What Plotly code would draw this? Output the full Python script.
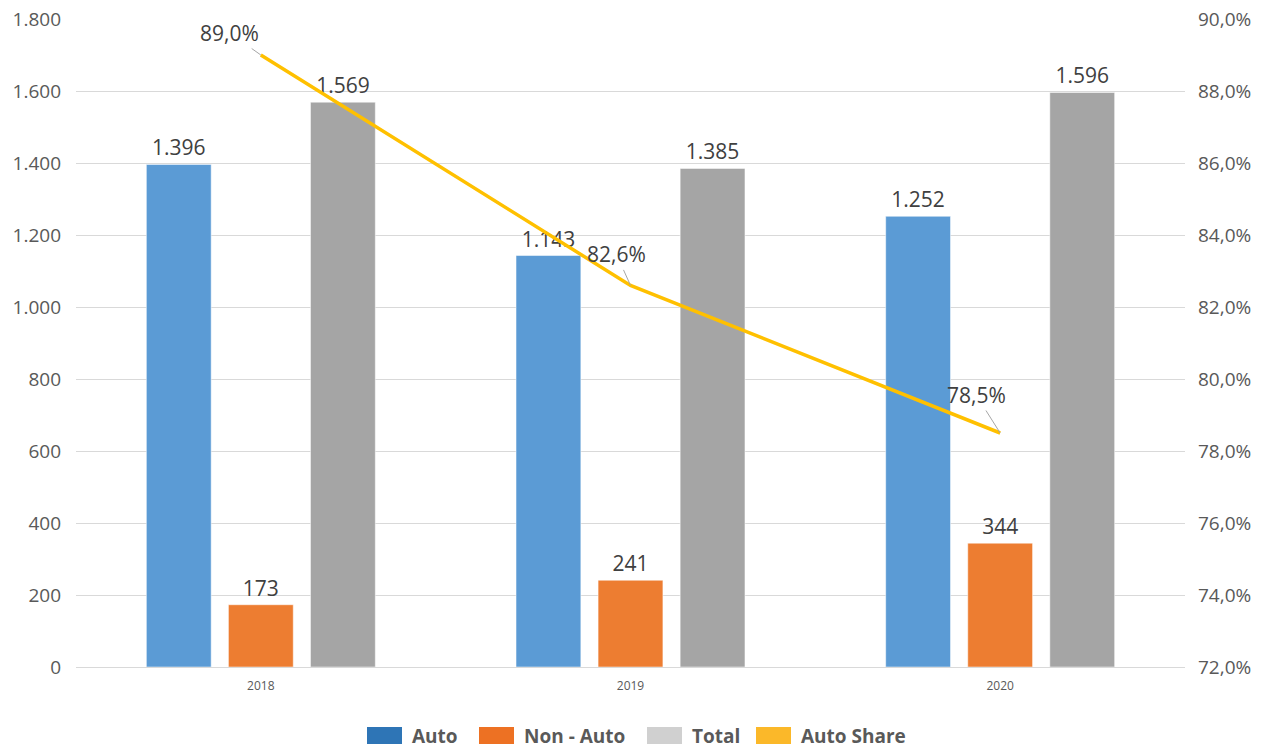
import plotly.graph_objects as go

# Yearly volumes and the auto share of the total
years = ["2018", "2019", "2020"]
auto = [1396, 1143, 1252]
non_auto = [173, 241, 344]
total = [1569, 1385, 1596]
auto_share = [0.890, 0.826, 0.785]

legend_names = ["Auto", "Non - Auto", "Total", "Auto Share"]
legend_colors = ["#2E75B6", "#ED7123", "#D0D0D0", "#FBB829"]

FONT = "Open Sans"
LABEL = "#404040"
TICK = "#595959"


def thousands(v):
    return f"{v:,}".replace(",", ".")


def pct(v):
    return f"{v * 100:.1f}%".replace(".", ",")


fig = go.Figure()

bar_series = [
    ("Auto", auto, "#5B9BD5"),
    ("Non - Auto", non_auto, "#ED7D31"),
    ("Total", total, "#A5A5A5"),
]
for name, vals, color in bar_series:
    fig.add_trace(go.Bar(
        x=years, y=vals, name=name,
        marker=dict(color=color, line=dict(color="rgba(255,255,255,0.5)", width=1)),
        text=[thousands(v) for v in vals],
        textposition="outside",
        textfont=dict(family=FONT, size=21, color=LABEL),
        cliponaxis=False,
        showlegend=False,
    ))

fig.add_trace(go.Scatter(
    x=years, y=auto_share, name="Auto Share", yaxis="y2",
    mode="lines", line=dict(color="#FFC000", width=3.5),
    showlegend=False,
))

# Share labels with thin leader lines (x given as category index)
offsets = [(-31, -22), (-14, -31), (-24, -38)]
for i, (v, (ax, ay)) in enumerate(zip(auto_share, offsets)):
    fig.add_annotation(
        x=i, y=v, xref="x", yref="y2", text=pct(v),
        showarrow=True, arrowhead=0, arrowwidth=1, arrowcolor="#A6A6A6",
        ax=ax, ay=ay, font=dict(family=FONT, size=21, color=LABEL),
    )

# Legend drawn as swatches with bold captions underneath the plot
L, W = 76, 1109
PT, PH = 19, 648


def px_x(p):
    return (p - L) / W


def px_y(p):
    return (PT + PH - p) / PH


swatch_left = [367, 479, 647, 756]
for name, color, sx in zip(legend_names, legend_colors, swatch_left):
    fig.add_shape(type="rect", xref="paper", yref="paper",
                  x0=px_x(sx), x1=px_x(sx + 35), y0=px_y(744), y1=px_y(727),
                  fillcolor=color, line=dict(width=0))
    fig.add_annotation(xref="paper", yref="paper", x=px_x(sx + 43), y=px_y(735.5),
                       xanchor="left", yanchor="middle", showarrow=False,
                       text=f"<b>{name}</b>",
                       font=dict(family=FONT, size=19, color=TICK))

fig.update_layout(
    width=1267, height=749, autosize=False,
    margin=dict(l=L, r=1267 - L - W, t=PT, b=749 - PT - PH, autoexpand=False),
    paper_bgcolor="white", plot_bgcolor="white",
    separators=",.",
    barmode="group", bargap=0.334, bargroupgap=0.21,
    font=dict(family=FONT, color=TICK),
    xaxis=dict(
        type="category", range=[-0.5, 2.5], showgrid=False, showline=True,
        linecolor="#D9D9D9", linewidth=1, ticks="", automargin=False,
        tickfont=dict(size=12, color=TICK), ticklabelstandoff=8,
    ),
    yaxis=dict(
        range=[0, 1800], dtick=200, tickformat=",d", automargin=False,
        showgrid=True, gridcolor="#D9D9D9", gridwidth=1,
        zeroline=False, showline=False, ticks="",
        tickfont=dict(size=19, color=TICK), ticklabelstandoff=14,
    ),
    yaxis2=dict(
        overlaying="y", side="right", range=[0.72, 0.90], dtick=0.02,
        tickformat=".1%", showgrid=False, zeroline=False, showline=False,
        automargin=False, ticks="", tickfont=dict(size=19, color=TICK),
        ticklabelstandoff=12,
    ),
    showlegend=False,
)

fig.write_html("out.html")
